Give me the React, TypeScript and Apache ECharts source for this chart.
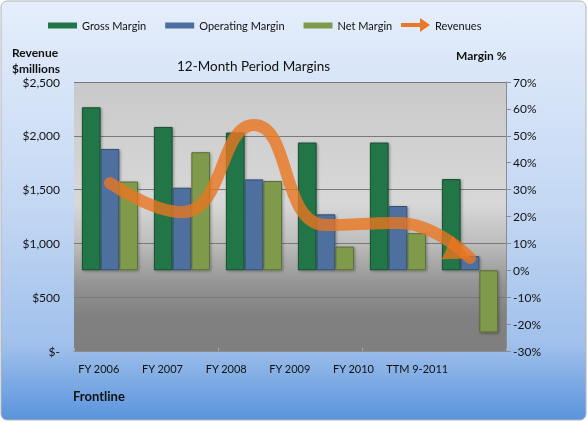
import React, { useEffect, useRef } from "react";
import * as echarts from "echarts";

const categories = ["FY 2006", "FY 2007", "FY 2008", "FY 2009", "FY 2010", "TTM 9-2011"];
const grossMargin = [60.6, 53.3, 51.2, 47.5, 47.5, 33.9];
const operatingMargin = [45.1, 30.7, 33.8, 20.8, 23.9, 5.3];
const netMargin = [33.0, 43.9, 33.2, 8.8, 13.8, -23.1];
const revenues = [1561, 1290, 2100, 1170, 1190, 864];

const FONT = "Lato, 'Open Sans', sans-serif";

function fmtMoney(v: number): string {
  if (v === 0) return "$-";
  return "$" + v.toString().replace(/\B(?=(\d{3})+(?!\d))/g, ",");
}

export default function App() {
  const ref = useRef<HTMLDivElement>(null);

  useEffect(() => {
    if (!ref.current) return;
    const chart = echarts.init(ref.current, undefined, { renderer: "svg" });
    const L = echarts.graphic.LinearGradient;

    const barStyle = (color: string, border: string) => ({
      color,
      borderColor: border,
      borderWidth: 1,
      shadowBlur: 3,
      shadowColor: "rgba(0,0,0,0.35)",
      shadowOffsetX: 1,
      shadowOffsetY: 1,
    });

    const lastIdx = revenues.length - 1;
    const lineData = revenues.map((v, i) =>
      i === lastIdx ? { value: v } : { value: v, symbol: "none" }
    );

    const option: any = {
      animation: false,
      textStyle: { fontFamily: FONT },
      title: {
        text: "12-Month Period Margins",
        left: 177,
        top: 59,
        padding: 0,
        textStyle: { fontFamily: FONT, fontSize: 13.5, fontWeight: "normal", color: "#111" },
      },
      legend: [
        {
          data: ["Gross Margin", "Operating Margin", "Net Margin"],
          left: 48,
          top: 20,
          padding: 0,
          itemWidth: 29,
          itemHeight: 6,
          itemGap: 19,
          itemStyle: { borderWidth: 0 },
          icon: "rect",
          textStyle: { fontFamily: FONT, fontSize: 11, color: "#111" },
        },
        {
          data: [
            {
              name: "Revenues",
              icon: "path://M0,5 L19,5 L19,0 L29,7 L19,14 L19,9 L0,9 Z",
              itemStyle: { color: "#e8782a" },
            },
          ],
          left: 401,
          top: 18,
          padding: 0,
          itemWidth: 29,
          itemHeight: 14,
          textStyle: { fontFamily: FONT, fontSize: 11, color: "#111" },
        },
      ],
      grid: [
        {
          left: 74,
          right: 82,
          top: 82,
          bottom: 71,
          show: true,
          borderWidth: 0,
          backgroundColor: new L(0, 0, 0, 1, [
            { offset: 0, color: "#c9c9c9" },
            { offset: 0.45, color: "#d8d8d8" },
            { offset: 0.6, color: "#bdbdbd" },
            { offset: 0.75, color: "#949494" },
            { offset: 0.87, color: "#818181" },
            { offset: 1, color: "#7e7e7e" },
          ]),
        },
        { left: 67, width: 382, top: 82, bottom: 71, show: false },
      ],
      xAxis: [
        {
          type: "category",
          gridIndex: 0,
          data: categories,
          axisLine: { show: true, lineStyle: { color: "#8c8c8c" } },
          axisTick: { show: true, inside: true, length: 3, lineStyle: { color: "#a6a6a6" } },
          axisLabel: { show: false },
        },
        {
          type: "category",
          gridIndex: 1,
          data: categories,
          axisLine: { show: false },
          axisTick: { show: false },
          axisLabel: { interval: 0, margin: 12, fontFamily: FONT, fontSize: 11, color: "#111" },
        },
      ],
      yAxis: [
        {
          type: "value",
          gridIndex: 0,
          min: 0,
          max: 2500,
          interval: 500,
          position: "left",
          axisLine: { show: false },
          axisTick: { show: false },
          splitLine: { show: true, lineStyle: { color: "#7a7a7a", width: 1 } },
          axisLabel: {
            formatter: fmtMoney,
            margin: 14,
            fontFamily: FONT,
            fontSize: 12,
            color: "#111",
          },
        },
        {
          type: "value",
          gridIndex: 0,
          min: -30,
          max: 70,
          interval: 10,
          position: "right",
          axisLine: { show: true, lineStyle: { color: "#8c8c8c" } },
          axisTick: { show: true, length: 5, lineStyle: { color: "#8c8c8c" } },
          splitLine: { show: false },
          axisLabel: {
            formatter: (v: number) => v + "%",
            margin: 7,
            fontFamily: FONT,
            fontSize: 12,
            color: "#111",
          },
        },
        { type: "value", gridIndex: 1, show: false },
      ],
      series: [
        {
          name: "Gross Margin",
          type: "bar",
          xAxisIndex: 0,
          yAxisIndex: 1,
          data: grossMargin,
          barGap: "0%",
          barCategoryGap: "22%",
          itemStyle: barStyle("#217446", "#174f30"),
        },
        {
          name: "Operating Margin",
          type: "bar",
          xAxisIndex: 0,
          yAxisIndex: 1,
          data: operatingMargin,
          barGap: "0%",
          barCategoryGap: "22%",
          itemStyle: barStyle("#4d6f9f", "#34506f"),
        },
        {
          name: "Net Margin",
          type: "bar",
          xAxisIndex: 0,
          yAxisIndex: 1,
          data: netMargin,
          barGap: "0%",
          barCategoryGap: "22%",
          itemStyle: barStyle("#7f9a4b", "#5a6d34"),
        },
        {
          name: "Revenues",
          type: "line",
          xAxisIndex: 0,
          yAxisIndex: 0,
          data: lineData,
          smooth: 0.5,
          symbol: "triangle",
          symbolSize: [26, 26],
          symbolRotate: -115,
          symbolOffset: [-11, -5],
          showSymbol: true,
          z: 5,
          lineStyle: { width: 12, color: "rgba(232,118,32,0.8)", cap: "round" },
          itemStyle: { color: "rgba(232,118,32,0.8)" },
        },
      ],
      graphic: [
        {
          type: "rect",
          z: -100,
          silent: true,
          shape: { x: 1, y: 1, width: 585, height: 419, r: 6 },
          style: {
            fill: new L(0, 0, 0, 1, [
              { offset: 0, color: "#e5eefb" },
              { offset: 0.5, color: "#c3d7f3" },
              { offset: 0.82, color: "#a0c0eb" },
              { offset: 1, color: "#5a94dd" },
            ]),
            stroke: "#b4b4b4",
            lineWidth: 1,
          },
        },
        {
          type: "text",
          left: 12,
          top: 44,
          style: {
            text: "Revenue\n$millions",
            font: "bold 12px " + FONT,
            fill: "#111",
            lineHeight: 16,
          },
        },
        {
          type: "text",
          left: 456,
          top: 49,
          style: { text: "Margin %", font: "bold 12px " + FONT, fill: "#111" },
        },
        {
          type: "text",
          left: 73,
          top: 389,
          style: { text: "Frontline", font: "bold 13px " + FONT, fill: "#111" },
        },
      ],
    };

    chart.setOption(option);
    return () => chart.dispose();
  }, []);

  return (
    <div
      ref={ref}
      style={{ position: "fixed", left: 0, top: 0, width: 588, height: 422 }}
    />
  );
}
